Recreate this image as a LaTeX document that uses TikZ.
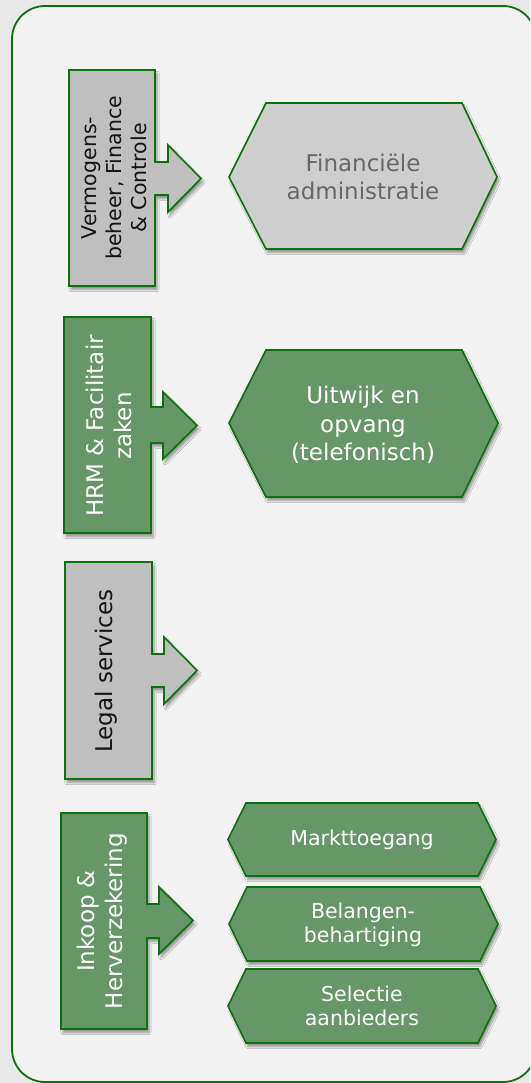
\documentclass[tikz,border=0pt]{standalone}
\usepackage{fontspec}
\setmainfont{DejaVu Sans}
\usetikzlibrary{shadows.blur}

\definecolor{frame}{RGB}{14,112,14}
\definecolor{pagebg}{RGB}{232,232,232}
\definecolor{panel}{RGB}{242,242,242}
\definecolor{greyfill}{RGB}{191,191,191}
\definecolor{greyhex}{RGB}{206,206,206}
\definecolor{greytext}{RGB}{104,104,104}
\definecolor{greenfill}{RGB}{102,151,102}
\definecolor{darktext}{RGB}{20,20,20}

\tikzset{
  unitshape/.style={draw=frame, line width=1.6pt, line join=miter,
    blur shadow={shadow xshift=2pt, shadow yshift=-3.5pt, shadow blur steps=6, shadow opacity=40}},
  greyshape/.style={unitshape, fill=greyfill},
  greenshape/.style={unitshape, fill=greenfill},
  greyhexshape/.style={unitshape, fill=greyhex},
  vlabel/.style={rotate=90, align=center, inner sep=0pt, font=\fontsize{23}{28}\selectfont},
  hlabel/.style={align=center, inner sep=0pt, font=\fontsize{23}{28.5}\selectfont},
  slabel/.style={align=center, inner sep=0pt, text=white, font=\fontsize{20.5}{24.5}\selectfont},
}

\begin{document}
\begin{tikzpicture}[x=1pt, y=-1pt]
  \useasboundingbox (0,0) rectangle (530,1083);
  \clip (0,0) rectangle (530,1083);
  \fill[pagebg] (0,0) rectangle (530,1083);

  % outer panel
  \draw[frame, line width=1.8pt, fill=panel, rounded corners=33pt] (12,6) rectangle (536,1082);

  % --- Vermogensbeheer, Finance & Controle ---
  \draw[greyshape] (69,70) -- (155,70) -- (155,162) -- (168,162) -- (168,145) -- (201,178.5)
     -- (168,212) -- (168,195) -- (155,195) -- (155,286) -- (69,286) -- cycle;
  \node[vlabel, text=darktext, font=\fontsize{20.5}{25}\selectfont] (finance) at (114,178)
     {Vermogens-\\beheer, Finance\\\& Controle};

  \draw[greyhexshape] (229,177) -- (266,103) -- (462,103) -- (497,177) -- (462,249) -- (266,249) -- cycle;
  \node[hlabel, text=greytext] (finadmin) at (363,177) {Financiële\\administratie};

  % --- HRM & Facilitair zaken ---
  \draw[greenshape] (64,317) -- (151,317) -- (151,407) -- (163,407) -- (163,392) -- (197,425.5)
     -- (163,459) -- (163,443) -- (151,443) -- (151,533) -- (64,533) -- cycle;
  \node[vlabel, text=white] (hrm) at (109,426) {HRM \& Facilitair\\zaken};

  \draw[greenshape] (229,423) -- (266,350) -- (462,350) -- (498,423) -- (462,497) -- (266,497) -- cycle;
  \node[hlabel, text=white] (uitwijk) at (363,425) {Uitwijk en\\opvang\\(telefonisch)};

  % --- Legal services ---
  \draw[greyshape] (65,562) -- (152,562) -- (152,654) -- (164,654) -- (164,637) -- (197,670.5)
     -- (164,704) -- (164,687) -- (152,687) -- (152,779) -- (65,779) -- cycle;
  \node[vlabel, text=darktext] (legal) at (106,671) {Legal services};

  % --- Inkoop & Herverzekering ---
  \draw[greenshape] (61,813) -- (147,813) -- (147,904) -- (159,904) -- (159,887) -- (193,920.5)
     -- (159,954) -- (159,938) -- (147,938) -- (147,1029) -- (61,1029) -- cycle;
  \node[vlabel, text=white] (inkoop) at (102,921) {Inkoop \&\\Herverzekering};

  \draw[greenshape] (228,839.5) -- (246,803) -- (478,803) -- (496,839.5) -- (478,876) -- (246,876) -- cycle;
  \node[slabel] (markt) at (362,840) {Markttoegang};

  \draw[greenshape] (229,924) -- (247,887) -- (480,887) -- (498,924) -- (480,961) -- (247,961) -- cycle;
  \node[slabel] (belangen) at (363,925) {Belangen-\\behartiging};

  \draw[greenshape] (228,1006) -- (246,969) -- (478,969) -- (496,1006) -- (478,1043) -- (246,1043) -- cycle;
  \node[slabel] (selectie) at (362,1006) {Selectie\\aanbieders};
\end{tikzpicture}
\end{document}
